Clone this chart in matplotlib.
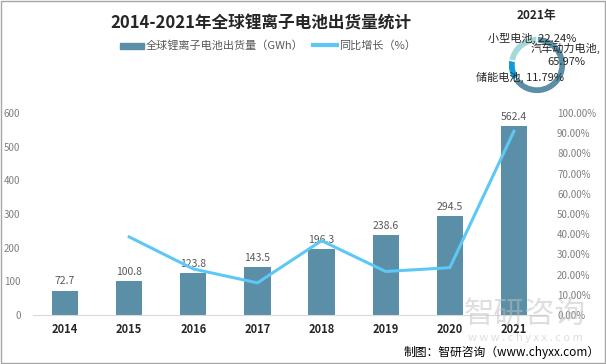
import matplotlib.pyplot as plt
import numpy as np

plt.rcParams['font.family'] = ['Noto Sans CJK SC', 'DejaVu Sans']

# 数据
years = ['2014', '2015', '2016', '2017', '2018', '2019', '2020', '2021']
shipments = [72.7, 100.8, 123.8, 143.5, 196.3, 238.6, 294.5, 562.4]
growth = [None, 38.65, 22.80, 15.91, 36.79, 21.55, 23.43, 90.97]

pie_labels = ['汽车动力电池', '储能电池', '小型电池']
pie_values = [65.97, 11.79, 22.24]

bar_color = '#5b8fa7'
line_color = '#5dc8f5'
pie_colors = ['#5b8fa7', '#0e9bd7', '#a5d9d8']
tick_color = '#7f7f7f'

fig = plt.figure(figsize=(6.06, 3.64), dpi=100)

ax = fig.add_axes([33 / 606, 1 - 315 / 364, 513 / 606, 202 / 364])
x = np.arange(len(years))
bars = ax.bar(x, shipments, width=0.41, color=bar_color, zorder=2)
for xi, v in zip(x, shipments):
    ax.text(xi, v + 12, f'{v:.1f}', ha='center', va='bottom', fontsize=7.5, color='#595959')
ax.set_ylim(0, 600)
ax.set_xlim(-0.5, len(years) - 0.5)
ax.set_yticks(range(0, 601, 100))
ax.set_xticks(x)
ax.set_xticklabels(years, fontsize=8, fontweight='bold', color='#262626')
ax.tick_params(axis='y', length=0, labelsize=7, labelcolor=tick_color, pad=9)
ax.tick_params(axis='x', length=0, pad=6)
for s in ['top', 'right', 'left']:
    ax.spines[s].set_visible(False)
ax.spines['bottom'].set_color('#d9d9d9')

ax2 = ax.twinx()
gx = [i for i, g in zip(x, growth) if g is not None]
gy = [g for g in growth if g is not None]
ax2.plot(gx, gy, color=line_color, linewidth=2.2, zorder=3)
ax2.set_ylim(0, 100)
ax2.set_yticks(range(0, 101, 10))
ax2.set_yticklabels([f'{v:.2f}%' for v in range(0, 101, 10)])
ax2.tick_params(axis='y', length=0, labelsize=7, labelcolor=tick_color, pad=8)
for s in ['top', 'right', 'left', 'bottom']:
    ax2.spines[s].set_visible(False)

# 标题与图例
fig.text(0.43, 0.935, '2014-2021年全球锂离子电池出货量统计', ha='center', va='center',
         fontsize=12, fontweight='bold', color='#262626')
fig.patches.append(plt.Rectangle((120 / 606, 1 - 49 / 364), 24 / 606, 6 / 364,
                                 color=bar_color, transform=fig.transFigure, figure=fig))
fig.text(146 / 606, 1 - 45 / 364, '全球锂离子电池出货量（GWh）', ha='left', va='center',
         fontsize=8, color='#595959')
fig.lines.append(plt.Line2D([313 / 606, 337 / 606], [1 - 45 / 364, 1 - 45 / 364],
                            color=line_color, linewidth=3, transform=fig.transFigure))
fig.text(339 / 606, 1 - 45 / 364, '同比增长（%）', ha='left', va='center',
         fontsize=8, color='#595959')

# 2021年 环形图
axp = fig.add_axes([501 / 606, 1 - 101 / 364, 72 / 606, 72 / 364])
axp.pie(pie_values, colors=pie_colors, startangle=90, counterclock=False,
        wedgeprops=dict(width=0.25, edgecolor='white', linewidth=1))
axp.set_aspect('equal')
fig.text(536 / 606, 1 - 15 / 364, '2021年', ha='center', va='center',
         fontsize=8.5, fontweight='bold', color='#262626')
fig.text(488 / 606, 1 - 38 / 364, f'{pie_labels[2]}, {pie_values[2]:.2f}%', ha='left',
         va='center', fontsize=8, color='#262626')
fig.text(566 / 606, 1 - 48 / 364, f'{pie_labels[0]},', ha='center',
         va='center', fontsize=8, color='#262626')
fig.text(566 / 606, 1 - 62 / 364, f'{pie_values[0]:.2f}%', ha='center',
         va='center', fontsize=8, color='#262626')
fig.text(476 / 606, 1 - 77 / 364, f'{pie_labels[1]}, {pie_values[1]:.2f}%', ha='left',
         va='center', fontsize=8, color='#262626')

# 水印与来源
fig.text(525 / 606, 1 - 314 / 364, '智研咨询', ha='center', va='center',
         fontsize=22, color='#bfbfbf', alpha=0.5, zorder=0)
fig.text(525 / 606, 1 - 338 / 364, 'w w w . c h y x x . c o m', ha='center', va='center',
         fontsize=8, color='#bfbfbf', alpha=0.5, zorder=0)
fig.text(600 / 606, 1 - 352 / 364, '制图：智研咨询（www.chyxx.com）', ha='right', va='center',
         fontsize=8.5, color='#000000')

# 边框
fig.patches.append(plt.Rectangle((0.001, 0.002), 0.997, 0.996, fill=False,
                                 edgecolor='#a6a6a6', linewidth=1, transform=fig.transFigure, figure=fig))

plt.savefig('out.png', dpi=100)
